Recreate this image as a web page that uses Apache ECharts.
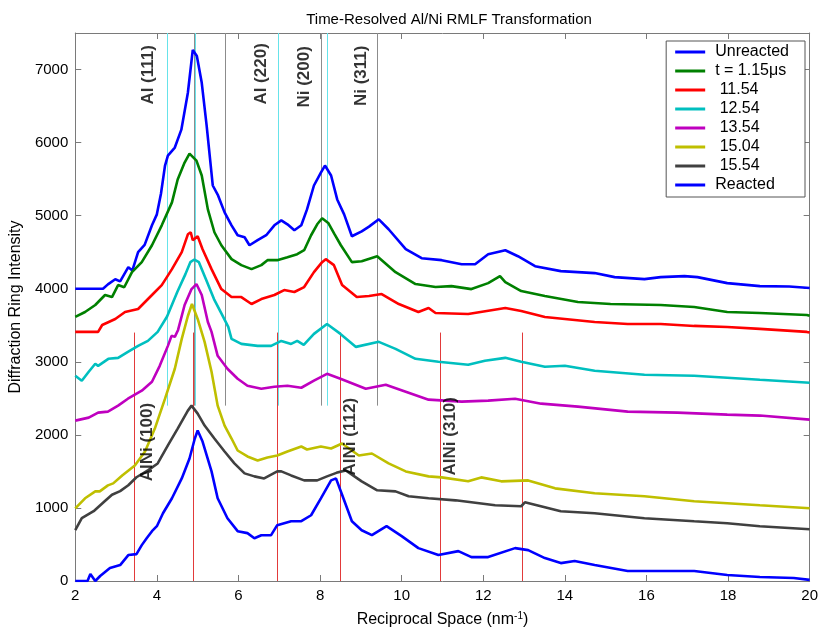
<!DOCTYPE html>
<html>
<head>
<meta charset="utf-8">
<script src="https://cdn.jsdelivr.net/npm/echarts@6/dist/echarts.min.js"></script>
<style>
  html, body { margin: 0; padding: 0; background: #fff; }
  #chart { width: 821px; height: 633px; }
</style>
</head>
<body>
<div id="chart"></div>
<script>
// peak positions (nm^-1)
const alLines = [4.25, 4.93, 6.98, 8.17]
const niLines = [4.91, 5.68, 8.02, 9.39]
const alniLines = [3.44, 4.88, 6.95, 8.49, 10.95, 12.95]

const peakLabels = [
  [3.78, 6520, 'Al (111)'],
  [6.56, 6520, 'Al (220)'],
  [7.61, 6480, 'Ni (200)'],
  [9.0, 6500, 'Ni (311)'],
  [3.76, 1364, 'AlNi (100)'],
  [8.73, 1445, 'AlNi (112)'],
  [11.2, 1445, 'AlNi (310)']
]

const legendNames = ['Unreacted', 't = 1.15\u03bcs', ' 11.54', ' 12.54', ' 13.54', ' 15.04', ' 15.54', 'Reacted']
const colors = ['#0000ff', '#008000', '#ff0000', '#00bfbf', '#bf00bf', '#bfbf00', '#404040', '#0000ff']

const unreacted = [[2,4000],[2.4,4000],[2.68,4000],[2.8,4060],[2.98,4130],[3.1,4100],[3.3,4295],[3.4,4250],[3.54,4500],[3.7,4600],[3.88,4868],[4.0,5018],[4.1,5300],[4.2,5686],[4.27,5822],[4.44,5932],[4.6,6177],[4.76,6682],[4.88,7268],[4.98,7186],[5.1,6818],[5.22,6232],[5.37,5413],[5.5,5277],[5.66,5045],[5.83,4868],[5.98,4732],[6.15,4705],[6.27,4595],[6.47,4664],[6.68,4732],[6.88,4868],[7.05,4936],[7.2,4882],[7.37,4800],[7.54,4868],[7.68,5086],[7.85,5413],[8.02,5590],[8.12,5686],[8.27,5550],[8.42,5222],[8.59,5018],[8.78,4718],[9.02,4786],[9.2,4850],[9.44,4950],[9.68,4814],[10.1,4541],[10.49,4418],[10.98,4391],[11.47,4336],[11.8,4336],[12.12,4473],[12.54,4527],[12.85,4445],[13.27,4309],[13.9,4241],[14.73,4214],[15.22,4159],[15.95,4132],[16.35,4159],[16.93,4173],[17.25,4159],[17.98,4077],[18.78,4036],[19.5,4030],[20,4010]]

const t115 = [[2,3614],[2.24,3682],[2.49,3777],[2.73,3914],[2.9,3886],[3.05,4050],[3.2,4020],[3.39,4227],[3.63,4364],[3.88,4595],[4.12,4868],[4.37,5182],[4.51,5495],[4.68,5727],[4.8,5850],[4.97,5754],[5.1,5550],[5.25,5086],[5.41,4773],[5.58,4595],[5.83,4405],[6.07,4323],[6.32,4268],[6.56,4323],[6.71,4391],[6.95,4391],[7.2,4432],[7.44,4473],[7.61,4527],[7.78,4732],[7.93,4882],[8.05,4964],[8.2,4900],[8.35,4750],[8.51,4595],[8.78,4364],[9.02,4377],[9.4,4445],[9.85,4227],[10.34,4064],[10.83,4023],[11.22,4036],[11.71,3995],[12.12,4077],[12.41,4173],[12.54,4091],[12.93,3968],[13.51,3900],[14.32,3818],[15.12,3791],[16.35,3777],[17.17,3750],[17.98,3682],[18.78,3668],[19.93,3641],[20,3630]]

const t1154 = [[2,3409],[2.56,3409],[2.66,3504],[2.98,3586],[3.22,3682],[3.54,3723],[3.88,3914],[4.12,4050],[4.37,4268],[4.61,4500],[4.76,4745],[4.83,4773],[4.88,4664],[5.0,4718],[5.12,4541],[5.34,4268],[5.58,3995],[5.83,3886],[6.07,3886],[6.32,3791],[6.56,3859],[6.88,3914],[7.12,3982],[7.37,3955],[7.61,4023],[7.85,4227],[8.05,4364],[8.14,4405],[8.34,4323],[8.54,4050],[8.9,3886],[9.2,3900],[9.51,3927],[9.93,3791],[10.41,3682],[10.66,3736],[10.83,3668],[11.63,3654],[12.54,3736],[12.93,3695],[13.51,3614],[14.73,3545],[15.54,3518],[16.35,3518],[17.17,3491],[17.98,3477],[18.78,3450],[19.93,3409],[20,3400]]

const t1254 = [[2,2809],[2.16,2741],[2.33,2864],[2.49,2973],[2.56,2945],[2.81,3041],[3.05,3054],[3.29,3136],[3.54,3218],[3.78,3286],[4.02,3409],[4.25,3620],[4.5,3955],[4.7,4200],[4.82,4364],[4.92,4400],[5.03,4364],[5.2,4132],[5.4,3859],[5.6,3641],[5.75,3477],[5.83,3314],[6.07,3245],[6.47,3218],[6.8,3218],[7.05,3286],[7.29,3245],[7.44,3286],[7.6,3232],[7.85,3382],[8.17,3518],[8.5,3382],[8.88,3204],[9.44,3273],[9.85,3177],[10.34,3041],[10.9,3000],[11.63,2959],[12.04,3014],[12.54,3054],[12.93,3000],[13.51,2932],[14.0,2945],[14.73,2877],[15.95,2823],[17.17,2809],[17.98,2782],[18.78,2755],[20,2714]]

const t1354 = [[2,2195],[2.33,2236],[2.56,2305],[2.8,2318],[3.05,2400],[3.29,2495],[3.63,2605],[3.88,2727],[4.07,2945],[4.27,3218],[4.36,3355],[4.44,3341],[4.52,3436],[4.68,3777],[4.85,3995],[4.97,4064],[5.1,3914],[5.25,3545],[5.34,3409],[5.49,3082],[5.73,2905],[5.98,2768],[6.22,2673],[6.56,2632],[6.88,2659],[7.2,2673],[7.54,2645],[7.85,2741],[8.17,2836],[8.5,2768],[9.12,2632],[9.61,2686],[10.1,2591],[10.66,2482],[11.47,2455],[12.12,2468],[12.78,2495],[13.42,2427],[14.32,2386],[15.54,2318],[16.76,2305],[17.98,2277],[18.78,2264],[20,2209]]

const t1504 = [[2,995],[2.24,1132],[2.49,1227],[2.6,1227],[2.8,1309],[2.93,1336],[3.15,1445],[3.46,1582],[3.71,1773],[3.95,2086],[4.2,2495],[4.44,2905],[4.61,3314],[4.76,3627],[4.86,3791],[5.0,3586],[5.17,3273],[5.34,2864],[5.49,2400],[5.66,2127],[5.83,1950],[5.98,1786],[6.22,1705],[6.47,1650],[6.71,1691],[6.95,1718],[7.2,1773],[7.54,1841],[7.68,1800],[8.02,1841],[8.27,1814],[8.54,1882],[8.95,1718],[9.27,1745],[9.68,1609],[10.1,1500],[10.66,1432],[10.98,1418],[11.63,1364],[11.95,1418],[12.44,1364],[13.1,1377],[13.76,1268],[14.73,1200],[15.95,1159],[17.17,1091],[17.98,1064],[18.78,1036],[20,995]]

const t1554 = [[2,695],[2.16,859],[2.45,955],[2.7,1080],[2.9,1180],[3.1,1230],[3.3,1310],[3.5,1420],[3.78,1514],[4.02,1609],[4.27,1855],[4.51,2086],[4.76,2332],[4.85,2400],[5.0,2291],[5.17,2127],[5.41,1950],[5.66,1773],[5.9,1609],[6.15,1473],[6.39,1432],[6.63,1404],[6.95,1500],[7.05,1500],[7.29,1445],[7.61,1377],[7.93,1377],[8.17,1432],[8.4,1480],[8.63,1514],[9.02,1364],[9.4,1241],[9.85,1227],[10.17,1159],[10.66,1132],[11.32,1104],[12.29,1036],[12.93,1023],[13.02,1077],[13.9,955],[14.73,927],[15.95,859],[17.17,818],[17.98,791],[18.78,750],[20,709]]

const reacted = [[2,0],[2.3,0],[2.37,95],[2.49,0],[2.61,68],[2.85,177],[3.1,218],[3.3,355],[3.5,368],[3.63,491],[3.75,586],[3.88,682],[4.0,750],[4.15,927],[4.37,1132],[4.61,1404],[4.8,1677],[4.93,1950],[5.0,2059],[5.12,1909],[5.34,1500],[5.49,1132],[5.73,859],[5.98,682],[6.22,655],[6.39,586],[6.56,627],[6.8,627],[6.95,764],[7.29,818],[7.54,818],[7.78,900],[8.02,1132],[8.27,1377],[8.39,1404],[8.54,1180],[8.78,818],[9.02,695],[9.27,627],[9.63,750],[10.0,614],[10.41,450],[10.9,355],[11.39,409],[11.71,327],[12.12,327],[12.78,450],[13.1,423],[13.51,314],[13.9,245],[14.24,273],[14.73,218],[15.54,136],[16.35,136],[17.17,136],[17.98,82],[18.78,55],[19.61,41],[20,15]]

const curves = [unreacted, t115, t1154, t1254, t1354, t1504, t1554, reacted]

const chart = echarts.init(document.getElementById('chart'))

const vline = (x, y0, y1, color) => [
  { coord: [x, y0], lineStyle: { color: color, width: 1, type: 'solid' } },
  { coord: [x, y1] }
]
const refLines = []
  .concat(niLines.map(x => vline(x, 2400, 7500, '#8c8c8c')))
  .concat(alLines.map(x => vline(x, 2400, 7500, '#66e3ea')))
  .concat(alniLines.map(x => vline(x, 0, 3400, '#e23a3a')))

const font = 'Arial, "Liberation Sans", sans-serif'
const axisColor = '#7a7a7a'

const lineSeries = curves.map((d, i) => ({
  name: legendNames[i],
  type: 'line',
  data: d,
  showSymbol: false,
  symbol: 'none',
  lineStyle: { width: 2.6, color: colors[i] },
  itemStyle: { color: colors[i] },
  z: 3,
  silent: true
}))

const option = {
  animation: false,
  title: {
    text: 'Time-Resolved Al/Ni RMLF Transformation',
    left: 444,
    top: 7,
    textAlign: 'center',
    textStyle: { fontFamily: font, fontSize: 15, fontWeight: 'normal', color: '#000' }
  },
  grid: { left: 75, right: 8, top: 33, bottom: 50 },
  legend: {
    data: legendNames,
    orient: 'vertical',
    right: 16,
    top: 41,
    align: 'left',
    icon: 'rect',
    itemWidth: 30,
    itemHeight: 3,
    itemGap: 3,
    padding: [3, 16, 4, 9],
    backgroundColor: '#fff',
    borderColor: '#555',
    borderWidth: 1,
    borderRadius: 0,
    selectedMode: false,
    textStyle: { fontFamily: font, fontSize: 16, color: '#000', lineHeight: 16, padding: [0, 0, 0, 5] }
  },
  xAxis: [
    {
      type: 'value', min: 2, max: 20, interval: 2,
      name: 'Reciprocal Space (nm{sup|-1})',
      nameLocation: 'middle', nameGap: 30,
      nameTextStyle: {
        fontFamily: font, fontSize: 16, color: '#000',
        rich: { sup: { fontFamily: font, fontSize: 10, color: '#000', verticalAlign: 'top', padding: [0, 0, 8, 0] } }
      },
      axisLine: { show: true, onZero: false, lineStyle: { color: axisColor, width: 1 } },
      axisTick: { show: true, inside: true, length: 6, lineStyle: { color: axisColor } },
      axisLabel: { fontFamily: font, fontSize: 15, color: '#000', margin: 7 },
      splitLine: { show: false }
    },
    {
      type: 'value', min: 2, max: 20, interval: 2, position: 'top',
      axisLine: { show: true, onZero: false, lineStyle: { color: axisColor, width: 1 } },
      axisTick: { show: true, inside: true, length: 6, lineStyle: { color: axisColor } },
      axisLabel: { show: false },
      splitLine: { show: false }
    }
  ],
  yAxis: [
    {
      type: 'value', min: 0, max: 7500, interval: 1000,
      name: 'Diffraction Ring Intensity',
      nameLocation: 'middle', nameGap: 47,
      nameTextStyle: { fontFamily: font, fontSize: 16, color: '#000' },
      axisLine: { show: true, onZero: false, lineStyle: { color: axisColor, width: 1 } },
      axisTick: { show: true, inside: true, length: 6, lineStyle: { color: axisColor } },
      axisLabel: {
        fontFamily: font, fontSize: 15, color: '#000', margin: 7, showMaxLabel: false,
        formatter: v => String(v)
      },
      splitLine: { show: false }
    },
    {
      type: 'value', min: 0, max: 7500, interval: 1000, position: 'right',
      axisLine: { show: true, onZero: false, lineStyle: { color: axisColor, width: 1 } },
      axisTick: { show: true, inside: true, length: 6, lineStyle: { color: axisColor } },
      axisLabel: { show: false },
      splitLine: { show: false }
    }
  ],
  series: [
    {
      name: 'peaks',
      type: 'scatter',
      data: peakLabels,
      symbolSize: 0,
      silent: true,
      z: 4,
      label: {
        show: true,
        formatter: p => p.data[2],
        position: [0, 0],
        rotate: 90,
        align: 'left',
        verticalAlign: 'middle',
        fontFamily: font,
        fontSize: 17,
        fontWeight: 'bold',
        color: '#000'
      },
      markLine: {
        silent: true,
        symbol: ['none', 'none'],
        label: { show: false },
        animation: false,
        z: 1,
        data: refLines
      }
    }
  ].concat(lineSeries)
}

chart.setOption(option)
</script>
</body>
</html>
